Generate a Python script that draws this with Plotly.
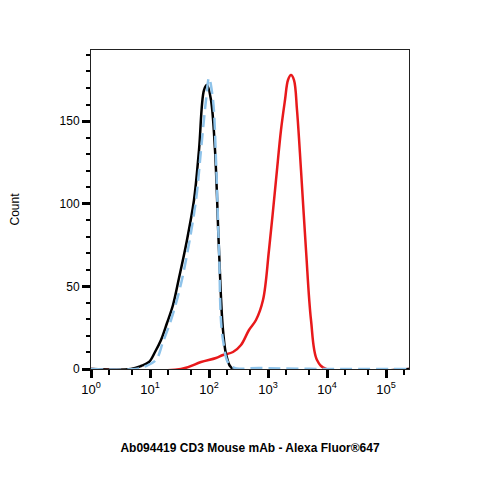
import plotly.graph_objects as go
import numpy as np

px0, ppd, yb, ppc = 90.0, 59.0, 369.0, 1.653
def conv(pts):
    xs = [10 ** ((p[0] - px0) / ppd) for p in pts]
    ys = [(yb - p[1]) / ppc for p in pts]
    return xs, ys

black_pts = [(90,369),(130,369),(140,366),(148,362),(154,352),(160,340),(166,323),(172,305),(178,278),(185,245),(193,200),(198,150),(203,90),(206,85),(210,100),(214,150),(218,250),(222,330),(226,358),(232,369),(408,369)]
blue_pts = [(90,369),(135,369),(145,366),(155,360),(162,342),(170,320),(178,292),(185,260),(195,200),(200,150),(205,100),(208,78),(212,100),(215,160),(218,250),(222,340),(230,366),(260,368),(330,369),(408,369)]
red_pts = [(90,369),(180,369),(200,362),(215,358),(222,355),(232,352),(240,345),(248,330),(255,320),(262,300),(268,250),(275,180),(280,130),(284,100),(287,80),(290,75),(293,80),(296,110),(300,170),(305,250),(310,320),(316,360),(325,369),(408,369)]

bx, by = conv(black_pts)
ux, uy = conv(blue_pts)
rx, ry = conv(red_pts)

fig = go.Figure()
fig.add_trace(go.Scatter(x=rx, y=ry, mode="lines", line=dict(color="#e8191b", width=2.5, shape="spline")))
fig.add_trace(go.Scatter(x=bx, y=by, mode="lines", line=dict(color="black", width=2.5, shape="spline")))
fig.add_trace(go.Scatter(x=ux, y=uy, mode="lines", line=dict(color="#8ec3ea", width=2.5, dash="12px,6px", shape="spline")))

fig.update_layout(
    width=479, height=479, showlegend=False, plot_bgcolor="white", paper_bgcolor="white",
    margin=dict(l=83, r=78, t=42, b=118, autoexpand=False),
    font=dict(family="Liberation Sans, Arial", color="black", size=12),
    xaxis=dict(type="log", range=[0, 318/59], showgrid=False, zeroline=False,
               showline=True, linecolor="#222", mirror=True, ticks="outside", ticklen=8, tickwidth=3,
               tickcolor="black", tickfont=dict(size=13, color="black"),
               tickvals=[1,10,100,1000,10000,100000],
               ticktext=["10<sup>0</sup>","10<sup>1</sup>","10<sup>2</sup>","10<sup>3</sup>","10<sup>4</sup>","10<sup>5</sup>"],
               minor=dict(ticks="outside", ticklen=5, tickwidth=2, tickcolor="black", showgrid=False),
               title=dict(text="<b>Ab094419 CD3 Mouse mAb - Alexa Fluor®647</b>", font=dict(size=12), standoff=48)),
    yaxis=dict(range=[0, 193], showgrid=False, zeroline=False, showline=True, linecolor="#222", mirror=True,
               ticks="outside", ticklen=8, tickwidth=3, tickcolor="black", tickvals=[0,50,100,150],
               tickfont=dict(size=12, color="black"),
               minor=dict(ticks="outside", ticklen=4, tickwidth=1.5, dtick=10, tickcolor="black", showgrid=False),
               title=dict(text="Count", font=dict(size=12), standoff=38)),
)
fig.write_html("out.html")
